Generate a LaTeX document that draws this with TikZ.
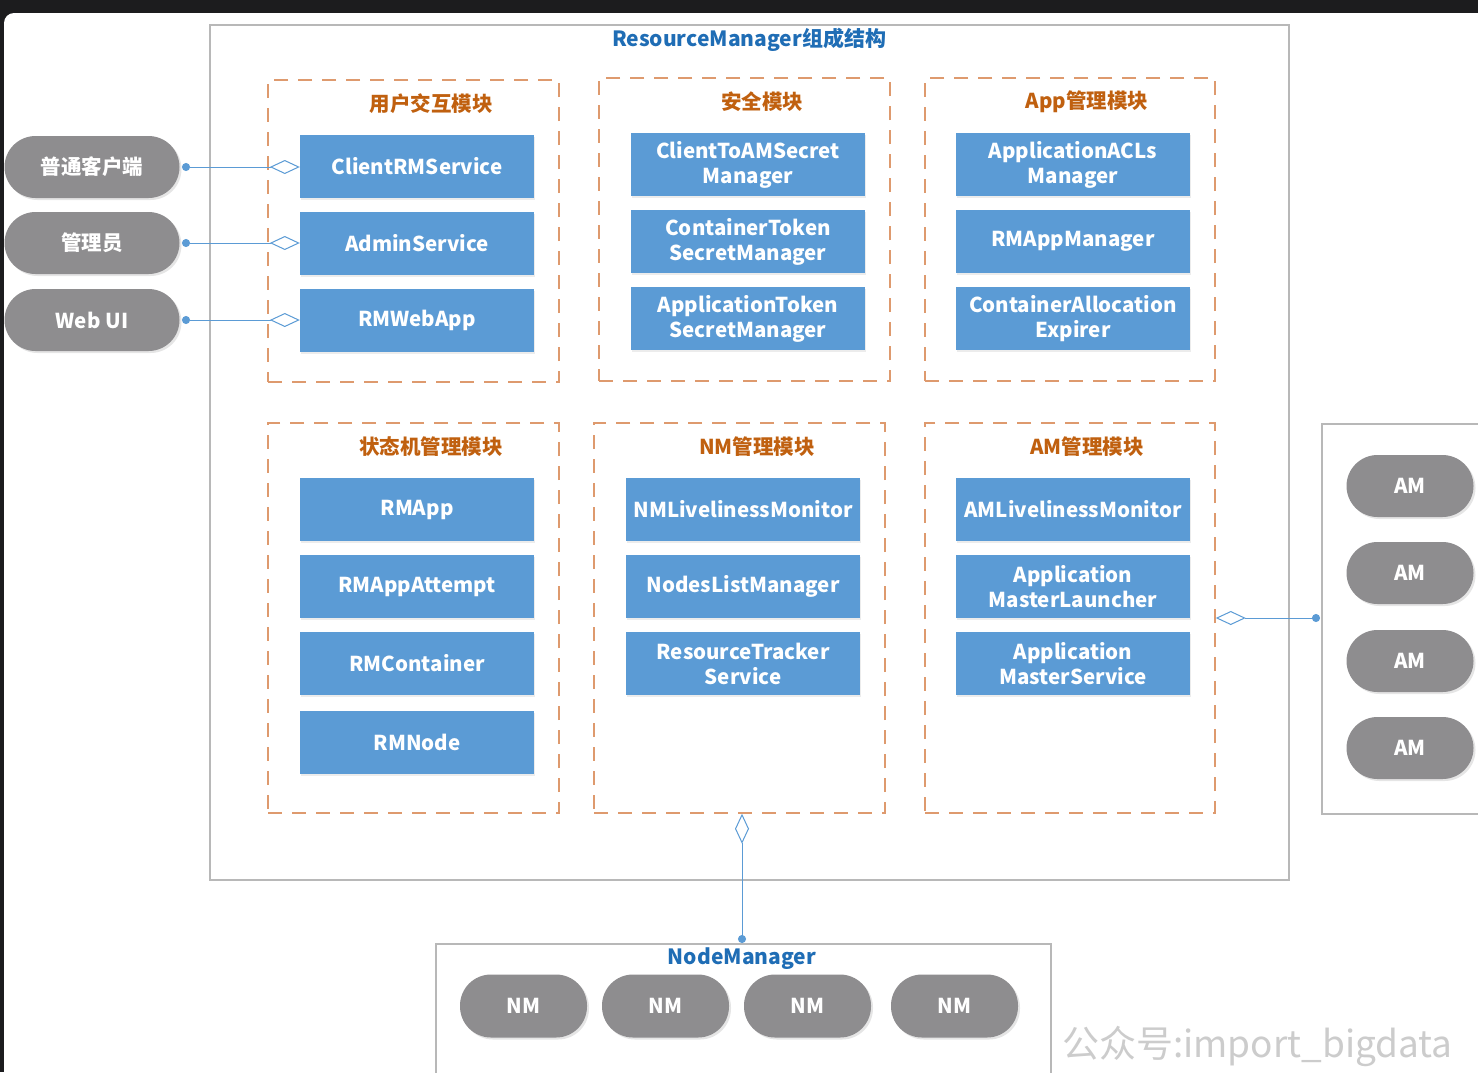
\documentclass[tikz,border=0pt]{standalone}
\usepackage{fontspec}
\setmainfont{Noto Sans CJK SC}
\usetikzlibrary{arrows.meta,shadows}
\definecolor{bluebox}{HTML}{5B9BD5}
\definecolor{pillgray}{HTML}{8E8D8F}
\definecolor{framegray}{HTML}{B8B8B8}
\definecolor{modorange}{HTML}{DE9A6E}
\definecolor{modtitle}{HTML}{C0600F}
\definecolor{titleblue}{HTML}{1F6DB5}
\definecolor{darkbg}{HTML}{1C1C1E}
\definecolor{linkblue}{HTML}{5B9BD5}
\begin{document}
\begin{tikzpicture}[x=1pt,y=-1pt,
  comp/.style={rectangle, fill=bluebox, minimum width=234pt, minimum height=63pt, text=white,
    font=\bfseries\fontsize{20.5}{25}\selectfont, align=center, inner sep=0pt,
    drop shadow={opacity=0.15, shadow xshift=1pt, shadow yshift=-1.5pt}},
  pill/.style={rectangle, rounded corners=31pt, fill=pillgray, minimum height=62pt, text=white,
    font=\bfseries\fontsize{20.5}{24}\selectfont, inner sep=0pt,
    drop shadow={opacity=0.2, shadow xshift=2pt, shadow yshift=-2pt}},
  modbox/.style={rectangle, draw=modorange, line width=1.5pt, dash pattern=on 14pt off 10pt, inner sep=0pt},
  modtitle/.style={text=modtitle, font=\bfseries\fontsize{20.5}{24}\selectfont, inner sep=0pt},
  frame/.style={rectangle, draw=framegray, line width=1.5pt, fill=white, inner sep=0pt},
  bigtitle/.style={text=titleblue, font=\bfseries\fontsize{21}{24}\selectfont, inner sep=0pt},
  link/.style={draw=linkblue, line width=1pt, {Circle[length=8pt]}-{Diamond[length=30pt,width=14pt,fill=white]}}
]
\useasboundingbox (0,0) rectangle (1478,1072);
% screen frame
\fill[darkbg] (0,0) rectangle (1478,1072);
\fill[white, rounded corners=10pt] (4,13) rectangle (1520,1110);

% main frames
\node[frame, minimum width=1079pt, minimum height=855pt] (rm) at (749.5,452.5) {};
\node[bigtitle] (rmtitle) at (749,40) {ResourceManager组成结构};
\node[frame, minimum width=200pt, minimum height=390pt, anchor=north west] (amframe) at (1321,423) {};
\node[frame, minimum width=615pt, minimum height=160pt, anchor=north west] (nmframe) at (435,943) {};
\node[bigtitle] (nmtitle) at (742,959) {NodeManager};

% module boxes
\node[modbox, minimum width=291pt, minimum height=302pt] (m1) at (413.5,231) {};
\node[modbox, minimum width=291pt, minimum height=303pt] (m2) at (744.5,229.5) {};
\node[modbox, minimum width=290pt, minimum height=303pt] (m3) at (1070,229.5) {};
\node[modbox, minimum width=291pt, minimum height=390pt] (m4) at (413.5,618) {};
\node[modbox, minimum width=291pt, minimum height=390pt] (m5) at (739.5,618) {};
\node[modbox, minimum width=290pt, minimum height=390pt] (m6) at (1070,618) {};

\node[modtitle] (t1) at (431,104) {用户交互模块};
\node[modtitle] (t2) at (762,102) {安全模块};
\node[modtitle] (t3) at (1087,102) {App管理模块};
\node[modtitle] (t4) at (431,447) {状态机管理模块};
\node[modtitle] (t5) at (757,447) {NM管理模块};
\node[modtitle] (t6) at (1087,447) {AM管理模块};

% components
\node[comp] (c11) at (417,166.5) {ClientRMService};
\node[comp] (c12) at (417,243.5) {AdminService};
\node[comp] (c13) at (417,320.5) {RMWebApp};

\node[comp] (c21) at (748,164.5) {ClientToAMSecret\\Manager};
\node[comp] (c22) at (748,241.5) {ContainerToken\\SecretManager};
\node[comp] (c23) at (748,318.5) {ApplicationToken\\SecretManager};

\node[comp] (c31) at (1073,164.5) {ApplicationACLs\\Manager};
\node[comp] (c32) at (1073,241.5) {RMAppManager};
\node[comp] (c33) at (1073,318.5) {ContainerAllocation\\Expirer};

\node[comp] (c41) at (417,509.5) {RMApp};
\node[comp] (c42) at (417,586.5) {RMAppAttempt};
\node[comp] (c43) at (417,663.5) {RMContainer};
\node[comp] (c44) at (417,742.5) {RMNode};

\node[comp] (c51) at (743,509.5) {NMLivelinessMonitor};
\node[comp] (c52) at (743,586.5) {NodesListManager};
\node[comp] (c53) at (743,663.5) {ResourceTracker\\Service};

\node[comp] (c61) at (1073,509.5) {AMLivelinessMonitor};
\node[comp] (c62) at (1073,586.5) {Application\\MasterLauncher};
\node[comp] (c63) at (1073,663.5) {Application\\MasterService};

% clients
\node[pill, minimum width=175pt] (p1) at (92,167) {普通客户端};
\node[pill, minimum width=175pt] (p2) at (92,243) {管理员};
\node[pill, minimum width=175pt] (p3) at (92,320) {Web UI};

% AMs
\node[pill, minimum width=127pt] (am1) at (1410,486) {AM};
\node[pill, minimum width=127pt] (am2) at (1410,573) {AM};
\node[pill, minimum width=127pt] (am3) at (1410,661) {AM};
\node[pill, minimum width=127pt] (am4) at (1410,748) {AM};

% NMs
\node[pill, minimum width=127pt, minimum height=63pt] (nm1) at (523.5,1006) {NM};
\node[pill, minimum width=127pt, minimum height=63pt] (nm2) at (665.5,1006) {NM};
\node[pill, minimum width=127pt, minimum height=63pt] (nm3) at (807.5,1006) {NM};
\node[pill, minimum width=127pt, minimum height=63pt] (nm4) at (954.5,1006) {NM};

% connectors
\coordinate (d1) at (182,167);
\coordinate (d2) at (182,243);
\coordinate (d3) at (182,320);
\draw[link] (d1) -- (d1 -| c11.west);
\draw[link] (d2) -- (d2 -| c12.west);
\draw[link] (d3) -- (d3 -| c13.west);

\coordinate (dam) at (1320,618);
\draw[link] (dam) -- (dam -| m6.east);

\coordinate (dnm) at (742,943);
\draw[link] (dnm) -- (dnm |- m5.south);

% watermark
\node[anchor=west, text=gray!40, font=\fontsize{37}{40}\selectfont, inner sep=0pt] (wm) at (1062,1046) {公众号:import\_bigdata};
\end{tikzpicture}
\end{document}
